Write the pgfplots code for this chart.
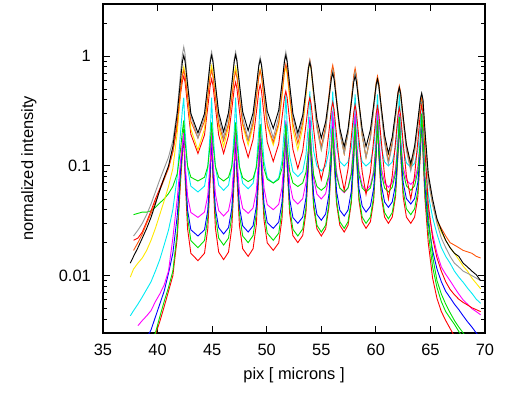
\documentclass[border=0pt]{standalone}
\usepackage{fontspec}
\setmainfont{Liberation Sans}
\usepackage{pgfplots}
\usepackage{pgfplotstable}
\pgfplotsset{compat=1.18}
\definecolor{cgray}{RGB}{150,150,150}
\definecolor{cored}{RGB}{255,85,10}
\definecolor{cyel}{RGB}{255,232,0}
\definecolor{cgreen}{RGB}{0,225,0}
\definecolor{ccyan}{RGB}{0,235,245}
\definecolor{cmag}{RGB}{255,0,255}
\definecolor{cblue}{RGB}{0,0,255}
\definecolor{cred}{RGB}{255,0,0}

\pgfplotstableread{
x gray black ored yellow redu greenu cyan mag blue greenl redl
37.5 nan 0.013 nan 0.0097 nan nan 0.0043 nan nan nan nan
37.8 0.023 0.015 0.017 0.0115 0.021 0.036 0.0048 nan nan nan nan
38.2 0.026 0.018 0.02 0.013 0.022 0.037 0.0055 0.0035 nan nan nan
38.6 0.03 0.022 0.024 0.0145 0.025 0.038 0.0064 0.0039 nan nan nan
39.0 0.036 0.027 0.03 0.017 0.031 0.038 0.0075 0.0043 0.0027 nan nan
39.4 0.045 0.034 0.037 0.021 0.039 0.039 0.0088 0.0048 0.0032 0.0026 0.0025
39.8 0.058 0.045 0.047 0.027 0.05 0.042 0.011 0.0058 0.0042 0.003 0.0029
40.2 0.075 0.06 0.06 0.036 0.062 0.046 0.014 0.0068 0.0055 0.0042 0.0038
40.6 0.095 0.078 0.075 0.048 0.078 0.05 0.019 0.0082 0.0072 0.0058 0.0052
41.0 0.12 0.1 0.095 0.065 0.097 0.056 0.026 0.011 0.0105 0.0078 0.0072
41.4 0.17 0.15 0.135 0.095 0.135 0.065 0.04 0.022 0.016 0.011 0.01
41.8 0.32 0.3 0.25 0.2 0.23 0.085 0.08 0.05 0.035 0.025 0.022
42.1 0.7 0.6 0.5 0.48 0.45 0.14 0.2 0.11 0.09 0.08 0.07
42.28 1.05 0.9 0.67 0.7 0.6 0.21 0.33 0.16 0.15 0.15 0.13
42.4 1.22 1.02 0.74 0.8 0.66 0.26 0.42 0.2 0.2 0.22 0.2
42.52 1.05 0.896 0.661 0.694 0.581 0.166 0.21 0.107 0.094 0.092 0.078
42.75 0.59 0.549 0.432 0.412 0.356 0.1 0.095 0.053 0.0396 0.0337 0.0267
43.05 0.29 0.301 0.256 0.216 0.195 0.079 0.0655 0.0377 0.0262 0.0209 0.016
43.7 0.18 0.2 0.18 0.14 0.13 0.073 0.058 0.034 0.023 0.018 0.0137
44.3 0.283 0.301 0.256 0.218 0.192 0.079 0.0655 0.038 0.0262 0.0209 0.016
44.6 0.553 0.549 0.432 0.419 0.3425 0.099 0.095 0.054 0.0396 0.0337 0.0267
44.83 0.95 0.896 0.661 0.713 0.547 0.162 0.21 0.115 0.094 0.092 0.078
44.95 1.1 1.02 0.74 0.82 0.62 0.25 0.42 0.22 0.2 0.22 0.2
45.07 0.95 0.90 0.657 0.716 0.547 0.162 0.212 0.1155 0.095 0.0935 0.0788
45.3 0.553 0.556 0.423 0.43 0.3425 0.099 0.098 0.0553 0.0408 0.035 0.0272
45.6 0.283 0.306 0.2455 0.229 0.192 0.079 0.067 0.0392 0.0274 0.022 0.0164
46.05 0.18 0.205 0.17 0.15 0.13 0.073 0.06 0.035 0.024 0.019 0.014
46.5 0.283 0.307 0.244 0.228 0.189 0.079 0.067 0.0392 0.0274 0.022 0.0164
46.8 0.553 0.557 0.416 0.423 0.3285 0.099 0.098 0.0553 0.041 0.035 0.0272
47.03 0.95 0.905 0.643 0.699 0.514 0.162 0.212 0.1155 0.098 0.0935 0.0788
47.15 1.1 1.03 0.72 0.8 0.58 0.25 0.42 0.22 0.21 0.22 0.2
47.27 0.952 0.905 0.643 0.702 0.511 0.162 0.215 0.118 0.099 0.095 0.0807
47.5 0.548 0.562 0.416 0.429 0.319 0.098 0.1 0.0577 0.0425 0.0364 0.0287
47.8 0.277 0.312 0.244 0.234 0.178 0.078 0.0694 0.041 0.0285 0.023 0.0176
48.3 0.175 0.21 0.17 0.155 0.12 0.072 0.062 0.037 0.025 0.02 0.015
48.75 0.269 0.3045 0.2455 0.231 0.1755 0.077 0.0694 0.0414 0.0285 0.0232 0.0176
49.05 0.509 0.528 0.423 0.415 0.308 0.097 0.1 0.0588 0.043 0.0372 0.0293
49.28 0.854 0.824 0.657 0.668 0.487 0.158 0.215 0.125 0.103 0.1 0.0855
49.4 0.98 0.93 0.74 0.76 0.55 0.24 0.42 0.24 0.22 0.24 0.22
49.52 0.859 0.829 0.656 0.668 0.483 0.155 0.224 0.128 0.1056 0.102 0.0896
49.75 0.516 0.538 0.418 0.415 0.298 0.095 0.11 0.0628 0.0456 0.0386 0.0323
50.05 0.275 0.315 0.240 0.231 0.1645 0.0756 0.078 0.0444 0.0305 0.0244 0.0199
50.6 0.18 0.22 0.165 0.155 0.11 0.07 0.07 0.04 0.027 0.021 0.017
51.1 0.283 0.323 0.2485 0.234 0.159 0.0756 0.078 0.0448 0.0308 0.0244 0.0199
51.4 0.553 0.570 0.456 0.429 0.274 0.095 0.111 0.0636 0.0467 0.039 0.033
51.63 0.95 0.902 0.746 0.702 0.426 0.155 0.235 0.135 0.112 0.105 0.095
51.75 1.1 1.02 0.85 0.8 0.48 0.24 0.45 0.26 0.24 0.25 0.24
51.87 0.95 0.896 0.742 0.694 0.422 0.152 0.245 0.141 0.116 0.1086 0.1006
52.1 0.553 0.549 0.45 0.412 0.259 0.09 0.123 0.07 0.0504 0.0419 0.0372
52.4 0.283 0.301 0.243 0.216 0.142 0.07 0.089 0.05 0.0339 0.0265 0.0232
52.85 0.18 0.2 0.16 0.14 0.095 0.065 0.08 0.045 0.03 0.023 0.02
53.3 0.2705 0.29 0.248 0.222 0.138 0.07 0.089 0.0504 0.0342 0.0267 0.0233
53.6 0.494 0.501 0.476 0.438 0.239 0.088 0.126 0.071 0.0516 0.042 0.038
53.83 0.806 0.782 0.806 0.762 0.373 0.144 0.256 0.148 0.122 0.111 0.106
53.95 0.92 0.88 0.93 0.88 0.42 0.22 0.48 0.28 0.26 0.26 0.26
54.07 0.795 0.776 0.804 0.762 0.366 0.14 0.267 0.153 0.125 0.1145 0.111
54.3 0.451 0.482 0.465 0.438 0.218 0.083 0.137 0.077 0.054 0.045 0.042
54.6 0.224 0.268 0.237 0.222 0.115 0.065 0.1 0.0555 0.0362 0.0288 0.0267
55.0 0.14 0.18 0.15 0.14 0.075 0.06 0.09 0.05 0.032 0.025 0.023
55.4 0.213 0.253 0.230 0.215 0.1125 0.065 0.1 0.056 0.0365 0.0288 0.0267
55.7 0.396 0.4185 0.435 0.406 0.205 0.083 0.137 0.0795 0.055 0.0453 0.0425
55.93 0.657 0.63 0.7275 0.679 0.334 0.14 0.267 0.167 0.132 0.117 0.114
56.05 0.75 0.7 0.83 0.78 0.38 0.22 0.48 0.32 0.28 0.27 0.27
56.17 0.655 0.62 0.718 0.676 0.329 0.137 0.277 0.174 0.135 0.121 0.117
56.4 0.387 0.39 0.411 0.395 0.189 0.081 0.148 0.0878 0.0588 0.048 0.0453
56.7 0.202 0.2205 0.207 0.2035 0.095 0.063 0.11 0.063 0.0396 0.031 0.0288
57.1 0.13 0.15 0.13 0.13 0.06 0.058 0.1 0.057 0.035 0.027 0.025
57.45 0.199 0.217 0.2035 0.201 0.094 0.063 0.109 0.063 0.0396 0.031 0.0288
57.75 0.374 0.376 0.395 0.382 0.182 0.083 0.146 0.0878 0.0588 0.0485 0.046
57.98 0.624 0.5865 0.676 0.645 0.312 0.146 0.266 0.174 0.135 0.124 0.12
58.1 0.72 0.66 0.78 0.74 0.36 0.24 0.45 0.32 0.28 0.28 0.28
58.22 0.624 0.5865 0.672 0.643 0.308 0.146 0.266 0.178 0.139 0.128 0.124
58.45 0.365 0.376 0.383 0.372 0.175 0.083 0.146 0.091 0.0627 0.0525 0.0486
58.75 0.188 0.217 0.192 0.189 0.088 0.063 0.109 0.0666 0.043 0.0342 0.031
59.1 0.12 0.15 0.12 0.12 0.055 0.058 0.1 0.06 0.038 0.03 0.027
59.5 0.179 0.214 0.184 0.182 0.0873 0.063 0.109 0.0666 0.043 0.0342 0.031
59.8 0.325 0.361 0.345 0.339 0.173 0.085 0.146 0.091 0.0627 0.0525 0.0486
60.03 0.527 0.553 0.576 0.559 0.302 0.154 0.266 0.178 0.139 0.128 0.124
60.15 0.6 0.62 0.66 0.64 0.35 0.26 0.45 0.32 0.28 0.28 0.28
60.27 0.521 0.547 0.572 0.554 0.2995 0.154 0.266 0.182 0.144 0.133 0.128
60.5 0.309 0.3425 0.334 0.327 0.167 0.085 0.146 0.096 0.0676 0.0564 0.0525
60.8 0.162 0.192 0.172 0.171 0.081 0.063 0.109 0.0704 0.047 0.0376 0.0342
61.15 0.105 0.13 0.11 0.11 0.05 0.058 0.1 0.064 0.042 0.033 0.03
61.5 0.155 0.184 0.164 0.161 0.081 0.064 0.109 0.0704 0.047 0.0376 0.0342
61.8 0.277 0.307 0.295 0.281 0.164 0.086 0.146 0.094 0.0676 0.0564 0.0525
62.03 0.442 0.465 0.474 0.443 0.292 0.161 0.266 0.175 0.144 0.133 0.128
62.15 0.5 0.52 0.54 0.5 0.34 0.28 0.45 0.3 0.28 0.28 0.28
62.27 0.437 0.459 0.471 0.439 0.292 0.163 0.263 0.178 0.148 0.137 0.128
62.5 0.261 0.2835 0.279 0.271 0.164 0.088 0.143 0.0986 0.071 0.06 0.0525
62.8 0.138 0.157 0.147 0.1495 0.081 0.066 0.107 0.074 0.0504 0.0407 0.0342
63.2 0.09 0.105 0.095 0.1 0.05 0.06 0.097 0.068 0.045 0.036 0.03
63.55 0.135 0.152 0.138 0.143 0.082 0.066 0.106 0.074 0.0504 0.0407 0.0342
63.85 0.247 0.262 0.239 0.2435 0.17 0.09 0.14 0.0986 0.071 0.06 0.0525
64.08 0.403 0.4085 0.373 0.374 0.3075 0.171 0.251 0.178 0.148 0.137 0.128
64.2 0.46 0.46 0.42 0.42 0.36 0.3 0.42 0.3 0.28 0.28 0.28
64.32 0.40 0.40 0.36 0.36 0.3 0.18 0.26 0.17 0.15 0.14 0.13
64.5 0.2 0.21 0.19 0.18 0.14 0.08 0.12 0.08 0.065 0.055 0.05
64.8 0.075 0.085 0.08 0.075 0.045 0.035 0.055 0.04 0.03 0.025 0.02
65.2 0.045 0.05 0.045 0.045 0.022 0.015 0.034 0.024 0.017 0.012 0.0095
65.6 0.03 0.033 0.032 0.031 0.0145 0.009 0.024 0.016 0.0115 0.0078 0.0062
66.0 0.022 0.026 0.027 0.025 0.011 0.0068 0.018 0.012 0.0088 0.0058 0.0047
66.4 0.018 0.021 0.023 0.021 0.0088 0.0055 0.015 0.0103 0.0072 0.0047 0.0039
66.8 0.015 0.018 0.02 0.018 0.0075 0.0046 0.013 0.009 0.0063 0.0041 0.0033
67.2 0.013 0.016 0.019 0.016 0.0067 0.0039 0.011 0.0078 0.0055 0.0036 0.0028
67.6 0.012 0.015 0.018 0.014 0.0061 0.0034 0.0097 0.0068 0.0049 0.0031 nan
68.0 0.011 0.013 0.017 0.0122 0.0057 0.003 0.0087 0.006 0.0043 0.0027 nan
68.4 0.0105 0.012 0.0165 0.011 0.0054 0.0027 0.0077 0.0055 0.0038 nan nan
68.8 0.01 0.011 0.016 0.0095 0.0051 nan 0.0069 0.005 0.0034 nan nan
69.2 0.0095 0.0102 0.015 0.0085 0.0049 nan 0.0061 0.0047 0.003 nan nan
69.6 0.009 0.009 0.0145 0.0076 0.0047 nan 0.0056 0.0044 0.0027 nan nan
}\data

\begin{document}
\begin{tikzpicture}
\useasboundingbox (0,0) rectangle (519pt,392pt);
\begin{axis}[
  at={(103pt,59pt)}, anchor=south west,
  width=382pt, height=329pt, scale only axis,
  xmin=35, xmax=70, ymin=0.003, ymax=3, ymode=log,
  xtick={35,40,45,50,55,60,65,70},
  ytick={0.01,0.1,1}, yticklabels={0.01,0.1,1},
  minor ytick={0.003,0.004,0.005,0.006,0.007,0.008,0.009,0.02,0.03,0.04,0.05,0.06,0.07,0.08,0.09,0.2,0.3,0.4,0.5,0.6,0.7,0.8,0.9,2,3},
  tick align=inside,
  major tick length=7pt, minor tick length=4pt,
  axis line style={line width=1.3pt},
  every tick/.style={line width=1pt, black},
  /pgf/number format/assume math mode=true,
  tick label style={font=\fontsize{16.4}{19}\selectfont},
  xticklabel style={anchor=base, yshift=-22.7pt},
  yticklabel style={anchor=east, inner sep=0pt, xshift=-12pt},
  label style={font=\fontsize{16.4}{19}\selectfont},
  xlabel={pix [ microns ]}, ylabel={normalized intensity},
  xlabel style={at={(axis description cs:0.5,-0.1416)}, anchor=base},
  ylabel style={at={(axis description cs:-0.183,0.5)}, anchor=base},
  every axis plot/.append style={line width=0.9pt, no markers},
]
\addplot[cred] table[x=x,y=redl]{\data};
\addplot[cgreen] table[x=x,y=greenl]{\data};
\addplot[cblue] table[x=x,y=blue]{\data};
\addplot[cmag] table[x=x,y=mag]{\data};
\addplot[ccyan] table[x=x,y=cyan]{\data};
\addplot[cgreen] table[x=x,y=greenu]{\data};
\addplot[cred] table[x=x,y=redu]{\data};
\addplot[cyel] table[x=x,y=yellow]{\data};
\addplot[cored] table[x=x,y=ored]{\data};
\addplot[cgray] table[x=x,y=gray]{\data};
\addplot[black] table[x=x,y=black]{\data};
\end{axis}
\end{tikzpicture}
\end{document}
